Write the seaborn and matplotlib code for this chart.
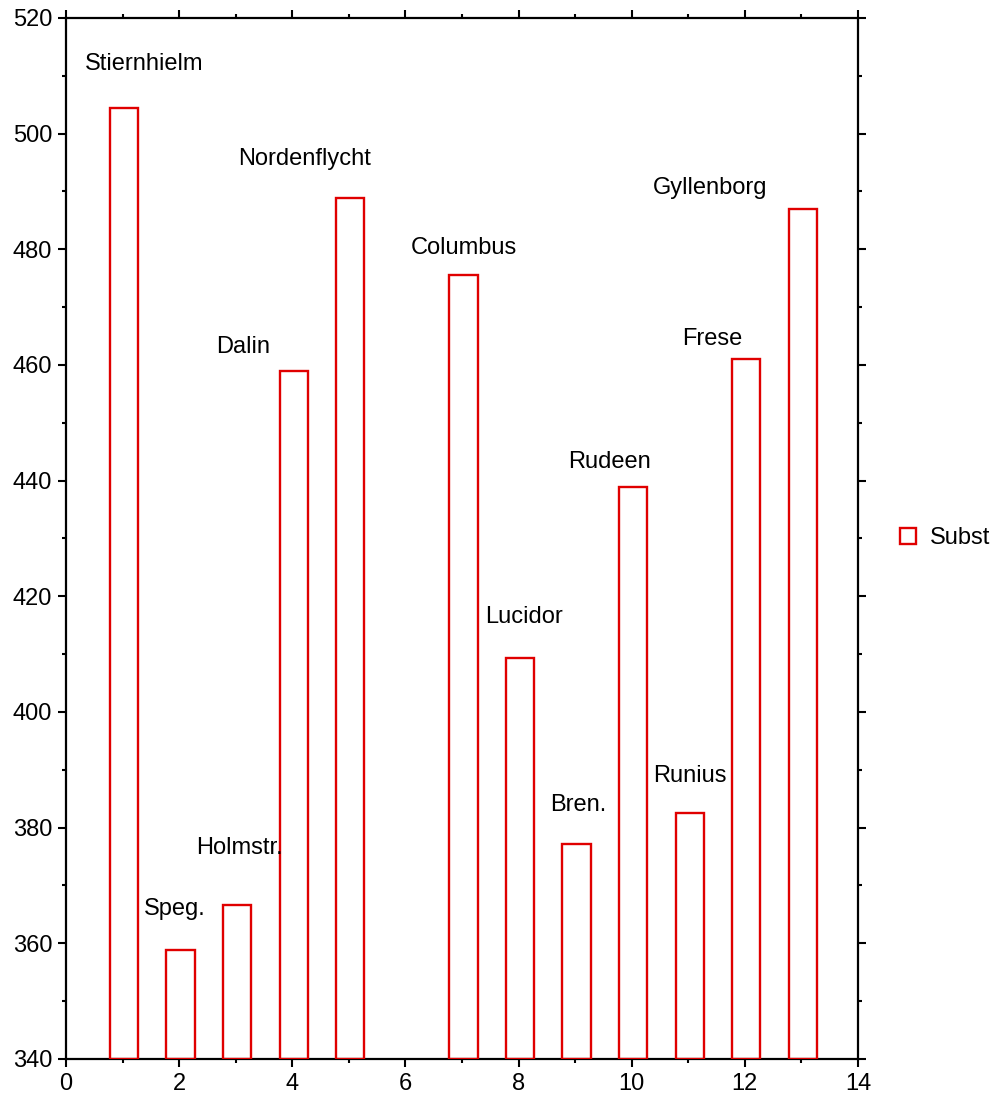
import pandas as pd
import matplotlib
matplotlib.use("Agg")
import matplotlib.pyplot as plt
import seaborn as sns
from matplotlib.ticker import MultipleLocator

sns.set_style("white")
plt.rcParams["font.family"] = ["Liberation Sans", "DejaVu Sans"]
plt.rcParams["text.color"] = "black"
plt.rcParams["xtick.color"] = "black"
plt.rcParams["ytick.color"] = "black"

# bar positions and heights
positions = [1, 2, 3, 4, 5, 7, 8, 9, 10, 11, 12, 13]
values = [504.5, 358.8, 366.6, 458.9, 488.8, 475.5, 409.4, 377.1, 438.9, 382.6, 461.0, 487.0]

# author names and where they are written
names = ["Stiernhielm", "Speg.", "Holmstr.", "Dalin", "Nordenflycht", "Columbus",
         "Lucidor", "Bren.", "Rudeen", "Runius", "Frese", "Gyllenborg"]
name_x = [1.39, 1.92, 3.06, 3.13, 4.21, 7.03, 8.10, 9.05, 9.60, 11.02, 11.43, 11.39]
name_y = [512.0, 366.0, 376.4, 463.1, 495.6, 480.2, 416.5, 383.9, 443.3, 388.9, 464.4, 490.6]

df = pd.DataFrame({"pos": positions, "val": values, "series": "Subst"})

fig = plt.figure(figsize=(9.95, 11.01), dpi=100)
ax = fig.add_axes([0.0663, 0.0382, 0.796, 0.9455])

sns.barplot(data=df, x="pos", y="val", hue="series", palette=["#e00000"],
            native_scale=True, width=0.5, fill=False, dodge=False,
            linewidth=1.7, ax=ax)

# bars start at the bottom of the axis, not at zero
for p in ax.patches:
    h = p.get_height()
    p.set_x(p.get_x() + 0.025)
    p.set_y(340)
    p.set_height(h - 340)
    p.set_zorder(3)

for n, x, y in zip(names, name_x, name_y):
    ax.text(x, y, n, ha="center", va="center", fontsize=17, color="black")

ax.set_xlim(0, 14)
ax.set_ylim(340, 520)
ax.xaxis.set_major_locator(MultipleLocator(2))
ax.xaxis.set_minor_locator(MultipleLocator(1))
ax.yaxis.set_major_locator(MultipleLocator(20))
ax.yaxis.set_minor_locator(MultipleLocator(10))
ax.set_xlabel("")
ax.set_ylabel("")

for s in ax.spines.values():
    s.set_visible(True)
    s.set_linewidth(1.6)
    s.set_color("black")
    s.set_zorder(2)

ax.tick_params(which="both", direction="out", top=True, right=True,
               bottom=True, left=True, color="black", width=1.5)
ax.tick_params(which="major", length=6, labelsize=17, labelcolor="black", pad=4)
ax.tick_params(which="minor", length=3)

leg = ax.legend(loc="center left", bbox_to_anchor=(1.053, 0.5), frameon=False,
                fontsize=17, handlelength=0.68, handleheight=0.68, handletextpad=0.6,
                borderaxespad=0, borderpad=0)
for h in leg.legend_handles:
    h.set_linewidth(1.7)

fig.savefig("out.png", dpi=100)
